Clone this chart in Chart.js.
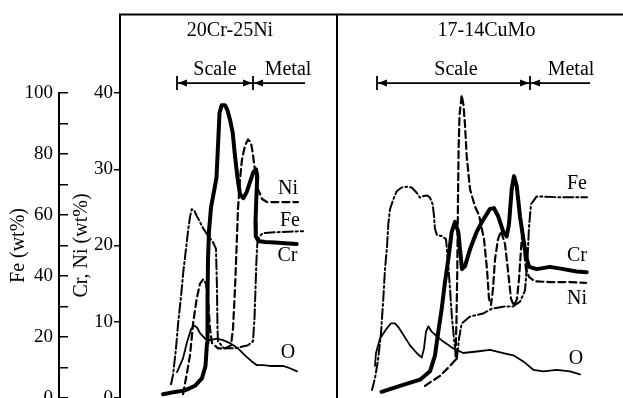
<!DOCTYPE html>
<html>
<head>
<meta charset="utf-8">
<script src="https://cdn.jsdelivr.net/npm/chart.js@4"></script>
<style>
  body { margin: 0; background: #fff; }
  #chart { display: block; }
</style>
</head>
<body>
<canvas id="chart" width="623" height="398"></canvas>
<script>
// depth along the profile, arbitrary units: left panel 0-43.4, right panel 43.4-100.6
// points are [depth, wt%]

// 20Cr-25Ni
const crLeft = [[8.6,0.5],[11,0.8],[13,1.0],[15,1.6],[16.4,2.6],[17.1,4.2],[17.4,7.2],[17.5,13.0],[17.6,18.2],[17.8,21.9],
  [18.2,25.0],[18.8,27.1],[19.3,28.9],[19.66,33.9],[19.9,37.4],[20.34,38.4],[21,38.4],[21.46,37.8],[22,36.5],[22.54,34.8],
  [23,31.7],[23.46,29.1],[24,26.7],[24.66,26.2],[25.34,27.0],[26,28.3],[26.66,29.6],[27.2,30.0],[27.46,29.1],[27.26,26.1],
  [27.1,23.1],[27.16,21.2],[27.66,20.6],[29,20.45],[31,20.4],[33,20.3],[35.34,20.2]];
const niLeft = [[12.6,0.5],[13.4,3.3],[14,5.6],[14.66,10.0],[15.34,13.0],[16,15.0],[16.66,15.6],[17.2,15.0],[17.6,13.0],[18,9.1],
  [18.4,7.2],[19.6,6.5],[21,6.5],[22.2,6.9],[22.6,9.1],[23,14.3],[23.3,19.5],[23.6,24.8],[24,28.7],[24.4,31.3],
  [25,33.1],[25.6,33.9],[26.2,33.5],[26.6,31.9],[27.1,29.3],[27.6,27.4],[28.4,26.1],[29.4,25.7],[32,25.7],[35.6,25.7]];
const feLeft = [[10.2,4.5],[10.6,7.5],[11.2,16.3],[11.66,25.1],[12.2,33.2],[12.66,41.4],[13.2,48.9],[13.66,55.4],[14,59.3],[14.34,61.9],
  [14.8,61.6],[15.34,59.7],[16,57.7],[16.6,55.7],[17,54.7],[17.8,52.8],[18.6,51.1],[19.2,48.9],[19.4,35.8],[19.5,22.8],
  [19.6,18.6],[20.8,16.3],[23,16.3],[25.6,17.3],[26.6,18.6],[26.9,26.1],[27.1,35.8],[27.3,45.6],[27.46,50.5],[27.8,52.8],
  [28.6,54.1],[32,54.4],[36.6,54.7]];
const oLeft = [[11.4,3.4],[12.6,5.2],[13.4,7.3],[14.2,9.0],[14.8,9.5],[15.4,9.25],[16,8.5],[17,7.8],[18,7.6],[19.34,7.8],
  [20.6,7.6],[22,7.2],[23.6,6.5],[25,5.6],[26.34,4.8],[27.4,4.3],[28.6,4.3],[30,4.2],[32.6,4.2],[34,3.9],[35.4,3.5]];

// 17-14CuMo
const crRight = [[52.3,0.8],[56,1.6],[60,2.4],[62,3.5],[63,5.6],[63.66,8.7],[64.34,11.7],[65,15.2],[65.66,18.2],[66.34,21.8],
  [67,23.1],[67.66,21.8],[68,19.5],[68.4,16.9],[69,17.3],[70,19.5],[71.34,21.8],[72.66,23.4],[74,24.8],[74.8,24.9],
  [75.66,23.8],[76.66,21.8],[77.34,21.2],[77.8,22.8],[78.34,27.4],[78.8,29.1],[79.34,27.8],[80,23.8],[80.66,20.9],[81.34,18.2],
  [81.86,17.2],[83.34,16.9],[86,17.2],[88.66,16.9],[91.34,16.6],[93.34,16.5]];
const niRight = [[61,1.6],[64,2.9],[66,4.2],[67.1,5.0],[67.3,10.4],[67.46,16.9],[67.6,26.1],[67.72,32.6],[67.9,37.1],[68.34,39.7],
  [68.7,38.4],[69,35.8],[69.34,31.7],[70,27.4],[71,25.1],[71.8,24.0],[72.8,20.8],[73.4,16.9],[73.8,13.0],[74.2,12.2],
  [74.6,14.3],[75,18.2],[75.6,20.8],[76.2,21.9],[77,20.2],[77.6,16.7],[78.2,13.0],[78.8,12.1],[79.4,13.0],[79.8,15.6],
  [80.2,19.5],[80.5,22.1],[80.8,19.5],[81.2,16.9],[81.8,15.9],[83,15.3],[86,15.2],[90,15.2],[93.2,15.1]];
const feRight = [[50.4,2.6],[51,6.5],[51.6,12.4],[52.2,21.2],[52.66,32.6],[53,42.3],[53.4,49.5],[53.66,57.0],[54,61.9],[54.66,65.1],
  [55.34,67.8],[56.34,69.0],[57.34,69.3],[58.34,69.0],[59.34,67.3],[60,65.7],[60.66,66.2],[61.46,66.4],[62,65.7],[62.54,63.5],
  [62.8,59.7],[63,55.4],[63.4,53.4],[64.34,53.1],[65.2,52.1],[65.66,43.4],[66,35.8],[66.4,26.1],[66.9,17.9],[67.34,12.4],
  [67.8,19.5],[68.34,24.4],[70,26.7],[72.6,27.7],[74.4,29.3],[77,30.0],[78.6,30.0],[80,31.6],[81,35.2],[81.5,45.6],
  [81.8,56.0],[82.2,63.5],[83.34,66.1],[88,65.8],[93.4,65.8]];
const oRight = [[51,4.2],[51.2,5.9],[52,7.8],[53.34,9.1],[54.2,9.8],[55,9.8],[55.66,9.3],[56.66,8.3],[58,6.9],[59.34,5.9],
  [60.34,5.3],[60.8,6.5],[61.2,8.7],[61.66,9.4],[62.34,8.7],[63.34,8.1],[64.66,7.4],[66.66,6.5],[68.66,5.9],[71.34,6.1],
  [74,6.3],[76.66,5.9],[78.66,5.6],[80.66,4.8],[82.66,3.7],[84.66,3.5],[87.34,3.7],[90,3.5],[92,3.1]];

const crTicks = [0, 10, 20, 30, 40];
const feTicks = [0, 20, 40, 60, 80, 100];

const serif = '"Liberation Serif", "Times New Roman", serif';

function pts(arr) {
    return arr.map(p => ({ x: p[0], y: p[1] }));
}

function series(data, axis, style) {
    return Object.assign({
        data: pts(data),
        yAxisID: axis,
        borderColor: '#000',
        pointRadius: 0,
        fill: false,
        tension: 0,
        borderJoinStyle: 'round',
        borderCapStyle: 'round'
    }, style);
}

const thick = { borderWidth: 4 };
const thin = { borderWidth: 1.8 };
const dashed = { borderWidth: 2.2, borderDash: [7, 4] };
const dashDot = { borderWidth: 2, borderDash: [10, 3, 2, 3] };

// panel furniture, placed through the chart's own scales
const panelSplit = 43.4;
const frameTop = 50.3;
const barLevel = 41.3;
const textLevel = 43.0;
const panels = [
    { title: '20Cr-25Ni', at: 22, bar: [11.4, 26.6, 37], scaleAt: 19, metalAt: 33.6,
      labels: [['Ni', 33.6, 27.4], ['Fe', 34, 23.3], ['Cr', 33.5, 18.6], ['O', 33.6, 5.9]] },
    { title: '17-14CuMo', at: 73.3, bar: [51.4, 82, 94], scaleAt: 67.2, metalAt: 90.2,
      labels: [['Fe', 91.4, 28.1], ['Cr', 91.4, 18.6], ['Ni', 91.4, 13.0], ['O', 91.2, 5.1]] }
];

const frame = {
    id: 'frame',
    afterDraw(chart) {
        const { ctx } = chart;
        const x = chart.scales.x, y = chart.scales.cr;
        const px = u => x.getPixelForValue(u);
        const py = v => y.getPixelForValue(v);
        const top = py(frameTop);
        ctx.save();
        ctx.strokeStyle = '#000';
        ctx.fillStyle = '#000';
        ctx.lineWidth = 2;
        ctx.beginPath();
        ctx.moveTo(px(0), py(40));
        ctx.lineTo(px(0), top);
        ctx.lineTo(chart.width, top);
        ctx.moveTo(px(panelSplit), top);
        ctx.lineTo(px(panelSplit), chart.height);
        ctx.stroke();

        ctx.font = '20px ' + serif;
        ctx.textAlign = 'center';
        ctx.textBaseline = 'middle';

        const arrow = (xp, yp, dir) => {
            ctx.beginPath();
            ctx.moveTo(xp, yp);
            ctx.lineTo(xp + dir * 9, yp - 3.5);
            ctx.lineTo(xp + dir * 9, yp + 3.5);
            ctx.closePath();
            ctx.fill();
        };

        panels.forEach(p => {
            ctx.fillText(p.title, px(p.at), py(48.1));
            ctx.fillText('Scale', px(p.scaleAt), py(textLevel));
            ctx.fillText('Metal', px(p.metalAt), py(textLevel));
            const [a, m, b] = p.bar.map(px);
            const yb = py(barLevel);
            ctx.lineWidth = 1.8;
            ctx.beginPath();
            ctx.moveTo(a, yb); ctx.lineTo(b, yb);
            ctx.moveTo(a, yb - 7); ctx.lineTo(a, yb + 7);
            ctx.moveTo(m, yb - 7); ctx.lineTo(m, yb + 7);
            ctx.stroke();
            arrow(a + 1, yb, 1);
            arrow(m - 1, yb, -1);
            arrow(m + 1, yb, 1);
            p.labels.forEach(l => ctx.fillText(l[0], px(l[1]), py(l[2])));
        });
        ctx.restore();
    }
};

// keep the half label at 0 from pushing the plot area up
function noLabelPadding(s, w) {
    s.width = w;
    s.paddingTop = 0;
    s.paddingBottom = 0;
}

const ctx = document.getElementById('chart').getContext('2d');
const chart = new Chart(ctx, {
    type: 'line',
    data: {
        datasets: [
            series(crLeft, 'cr', thick),
            series(niLeft, 'cr', dashed),
            series(feLeft, 'fe', dashDot),
            series(oLeft, 'cr', thin),
            series(crRight, 'cr', thick),
            series(niRight, 'cr', dashed),
            series(feRight, 'fe', dashDot),
            series(oRight, 'cr', thin)
        ]
    },
    options: {
        responsive: false,
        animation: false,
        layout: { padding: { top: 93, bottom: -2, left: 0, right: 0 } },
        plugins: { legend: { display: false }, tooltip: { enabled: false } },
        scales: {
            x: { type: 'linear', min: 0, max: 100.6, display: false },
            fe: {
                type: 'linear', position: 'left', weight: 1, min: 0, max: 100,
                afterFit: s => noLabelPadding(s, 59),
                afterBuildTicks: s => {
                    s.ticks = [];
                    for (let v = 0; v <= 100; v += 10) s.ticks.push({ value: v });
                },
                border: { color: '#000', width: 2 },
                grid: { drawOnChartArea: false, tickLength: -9, color: '#000', lineWidth: 1.5 },
                ticks: {
                    padding: 15, color: '#000', font: { family: serif, size: 19 },
                    callback: v => feTicks.includes(v) ? v : ''
                },
                title: { display: true, text: 'Fe (wt%)', color: '#000', padding: { top: 7 }, font: { family: serif, size: 20 } }
            },
            cr: {
                type: 'linear', position: 'left', weight: 0, min: 0, max: 40,
                afterFit: s => noLabelPadding(s, 61),
                afterBuildTicks: s => { s.ticks = crTicks.map(v => ({ value: v })); },
                border: { color: '#000', width: 2 },
                grid: { drawOnChartArea: false, tickLength: 6, color: '#000', lineWidth: 1.5 },
                ticks: { padding: 1, color: '#000', font: { family: serif, size: 19 } },
                title: { display: true, text: 'Cr, Ni (wt%)', color: '#000', padding: { top: 11 }, font: { family: serif, size: 20 } }
            }
        }
    },
    plugins: [frame]
});
</script>
</body>
</html>
